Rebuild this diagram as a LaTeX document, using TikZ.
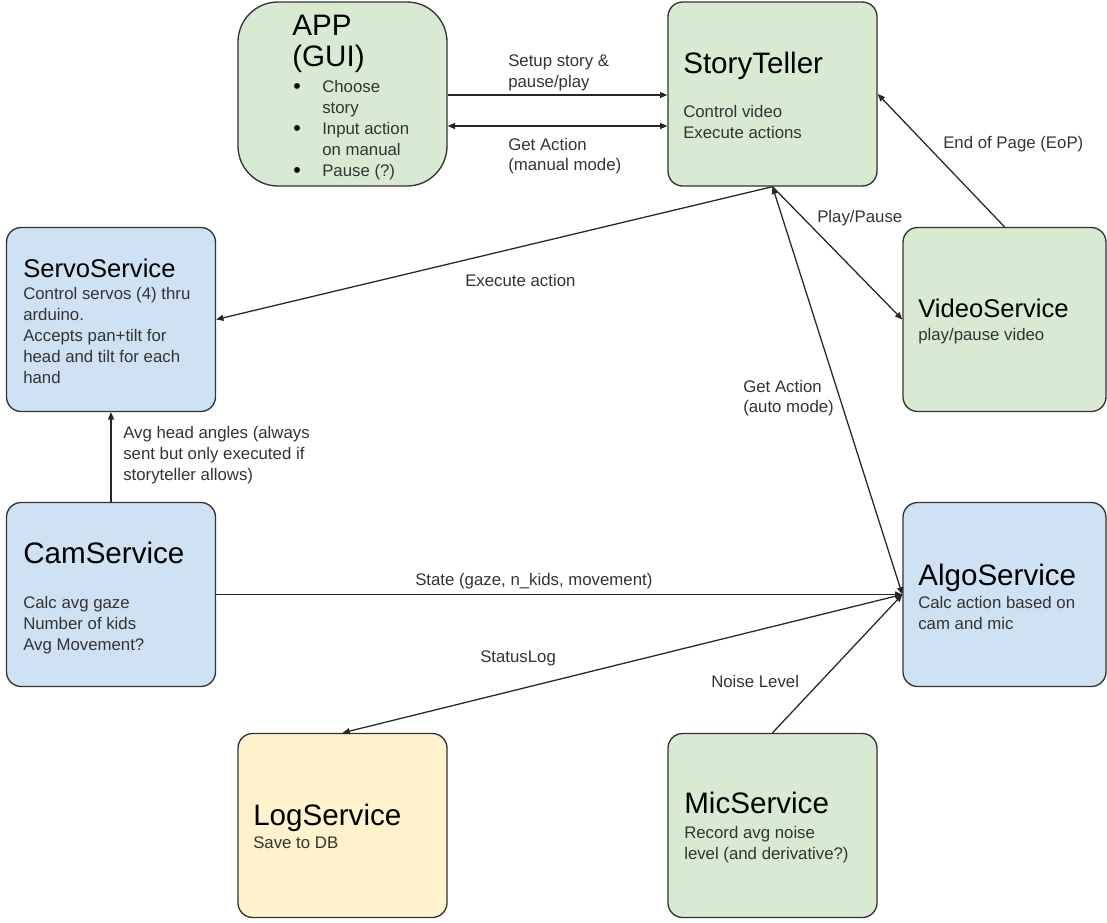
\documentclass[tikz,border=0pt]{standalone}
\usepackage{fontspec}
\setmainfont{Liberation Sans}
\usetikzlibrary{arrows.meta}
\definecolor{gfill}{HTML}{D9EAD3}
\definecolor{bfill}{HTML}{CFE2F3}
\definecolor{yfill}{HTML}{FFF2CC}
\definecolor{edgec}{HTML}{333333}
\definecolor{txt}{HTML}{333333}
\begin{document}
\begin{tikzpicture}[x=0.75pt,y=-0.75pt,
  box/.style={draw=edgec, line width=1pt, rounded corners=11pt, minimum width=156.75pt, minimum height=138pt, inner sep=0pt},
  narrowbox/.style={box, minimum width=152.25pt},
  title/.style={anchor=base west, inner sep=0pt, font=\fontsize{22.2}{26}\selectfont, text=black},
  smalltitle/.style={anchor=base west, inner sep=0pt, font=\fontsize{19.2}{23}\selectfont, text=black},
  body/.style={anchor=base west, inner sep=0pt, font=\fontsize{12.6}{15}\selectfont, text=txt},
  bul/.style={anchor=base, inner sep=0pt, font=\fontsize{16}{18}\selectfont, text=black},
  conn/.style={draw=black!85, line width=0.95pt, -{Triangle[length=5.5pt,width=4.5pt]}},
  both/.style={draw=black!85, line width=0.95pt, {Triangle[length=5.5pt,width=4.5pt]}-{Triangle[length=5.5pt,width=4.5pt]}}
]
\useasboundingbox (0,0) rectangle (1107,922);

% boxes
\node[box, fill=gfill, rounded corners=30pt] (app) at (342.5,94) {};
\node[box, fill=gfill] (st) at (772.5,94) {};
\node[box, fill=bfill] (servo) at (111,319.5) {};
\node[narrowbox, fill=gfill] (video) at (1004.5,319.5) {};
\node[box, fill=bfill] (cam) at (111,594.5) {};
\node[narrowbox, fill=bfill] (algo) at (1004.5,594.5) {};
\node[box, fill=yfill] (log) at (342.5,825.5) {};
\node[box, fill=gfill] (mic) at (772.5,825.5) {};

% helper coordinates
\coordinate (ya) at (0,95);
\coordinate (yb) at (0,126);

% connectors
\draw[conn] (app.east |- ya) -- (st.west |- ya);
\draw[both] (app.east |- yb) -- (st.west |- yb);
\draw[conn] (st.south) -- (servo.east);
\draw[conn] (st.south) -- (video.west);
\draw[both] (st.south) -- (algo.west);
\draw[conn] (video.north) -- (st.east);
\draw[conn] (cam.north) -- (servo.south);
\draw[conn] (cam.east) -- (algo.west);
\draw[conn] (algo.west) -- (log.north);
\draw[conn] (mic.north) -- (algo.west);

% APP text
\node[title] (appt1) at (292,35) {APP};
\node[title] (appt2) at (292,66) {(GUI)};
\node[bul] (b1) at (297,93) {•};
\node[bul] (b2) at (297,135) {•};
\node[bul] (b3) at (297,177) {•};
\node[body] (appl1) at (322,92) {Choose};
\node[body] (appl2) at (322,113) {story};
\node[body] (appl3) at (322,134) {Input action};
\node[body] (appl4) at (322,155) {on manual};
\node[body] (appl5) at (322,176) {Pause (?)};

% StoryTeller
\node[title] (stt) at (683,73) {StoryTeller};
\node[body] (stl1) at (683,117) {Control video};
\node[body] (stl2) at (683,138) {Execute actions};

% ServoService
\node[smalltitle] (svt) at (23,277) {ServoService};
\node[body] (svl1) at (23,299) {Control servos (4) thru};
\node[body] (svl2) at (23,320) {arduino.};
\node[body] (svl3) at (23,341) {Accepts pan+tilt for};
\node[body] (svl4) at (23,362) {head and tilt for each};
\node[body] (svl5) at (23,383) {hand};

% VideoService
\node[smalltitle] (vdt) at (918,317) {VideoService};
\node[body] (vdl1) at (918,340) {play/pause video};

% CamService
\node[title] (cmt) at (23,563) {CamService};
\node[body] (cml1) at (23,608) {Calc avg gaze};
\node[body] (cml2) at (23,629) {Number of kids};
\node[body] (cml3) at (23,650) {Avg Movement?};

% AlgoService
\node[title] (agt) at (918,585) {AlgoService};
\node[body] (agl1) at (918,608) {Calc action based on};
\node[body] (agl2) at (918,629) {cam and mic};

% LogService
\node[title] (lgt) at (253,825) {LogService};
\node[body] (lgl1) at (253,848) {Save to DB};

% MicService
\node[title] (mct) at (684,813) {MicService};
\node[body] (mcl1) at (684,838) {Record avg noise};
\node[body] (mcl2) at (684,859) {level (and derivative?)};

% connector labels
\node[body] (la1) at (508,66) {Setup story \&};
\node[body] (la2) at (508,87) {pause/play};
\node[body] (lb1) at (508,150) {Get Action};
\node[body] (lb2) at (508,170) {(manual mode)};
\node[body] (lc) at (465,286) {Execute action};
\node[body] (ld) at (817,222) {Play/Pause};
\node[body] (le) at (943,148) {End of Page (EoP)};
\node[body] (lf1) at (743,392) {Get Action};
\node[body] (lf2) at (743,412) {(auto mode)};
\node[body] (lg1) at (123,438) {Avg head angles (always};
\node[body] (lg2) at (123,459) {sent but only executed if};
\node[body] (lg3) at (123,480) {storyteller allows)};
\node[body] (lh) at (415,585) {State (gaze, n\_kids, movement)};
\node[body] (li) at (480,662) {StatusLog};
\node[body] (lj) at (711,687) {Noise Level};
\end{tikzpicture}
\end{document}
